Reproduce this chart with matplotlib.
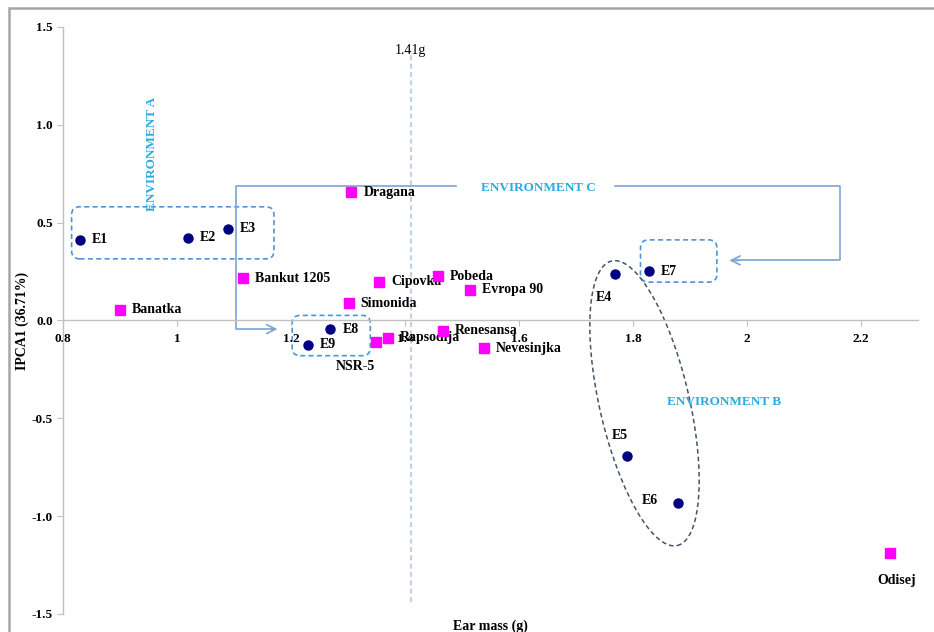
import numpy as np
import matplotlib
matplotlib.use("Agg")
import matplotlib.pyplot as plt
from matplotlib.patches import FancyBboxPatch, Rectangle

plt.rcParams['font.family'] = ['Liberation Serif', 'DejaVu Serif']

# environments (circles)
env_names = ["E1", "E2", "E3", "E4", "E5", "E6", "E7", "E8", "E9"]
env_x = [0.829, 1.019, 1.089, 1.768, 1.789, 1.878, 1.828, 1.269, 1.229]
env_y = [0.412, 0.423, 0.470, 0.239, -0.691, -0.933, 0.252, -0.044, -0.124]

# genotypes (squares)
gen_names = ["Banatka", "Bankut 1205", "Dragana", "Cipovka", "Pobeda", "Evropa 90",
             "Simonida", "Renesansa", "Nevesinjka", "NSR-5", "Rapsodija", "Odisej"]
gen_x = [0.900, 1.116, 1.306, 1.355, 1.457, 1.514, 1.301, 1.467, 1.538, 1.349, 1.370, 2.250]
gen_y = [0.055, 0.217, 0.656, 0.198, 0.227, 0.157, 0.089, -0.053, -0.141, -0.112, -0.088, -1.189]

mean_mass = 1.41

# label offsets in pixels, default is to the right of the point
label_off = {"E4": (-11, -24), "E5": (-7, 20), "E6": (-28, 3),
             "NSR-5": (-21, -24), "Odisej": (7, -27)}

fig = plt.figure(figsize=(9.34, 6.32), dpi=100)
ax = fig.add_axes([0.0675, 0.0285, 0.9155, 0.9288])

ax.set_xlim(0.8, 2.3)
ax.set_ylim(-1.5, 1.5)

ax.spines['top'].set_visible(False)
ax.spines['right'].set_visible(False)
ax.spines['bottom'].set_position(('data', 0))
for s in ['left', 'bottom']:
    ax.spines[s].set_color('#c0c0c0')
    ax.spines[s].set_linewidth(1.0)
ax.tick_params(colors='#c0c0c0', length=4, width=0.8, labelcolor='black', labelsize=9.5)
ax.tick_params(axis='x', pad=5)
ax.set_xticks([0.8, 1, 1.2, 1.4, 1.6, 1.8, 2, 2.2])
ax.set_xticklabels(["0.8", "1", "1.2", "1.4", "1.6", "1.8", "2", "2.2"])
ax.set_yticks([-1.5, -1.0, -0.5, 0.0, 0.5, 1.0, 1.5])
ax.set_yticklabels(["%.1f" % v for v in [-1.5, -1.0, -0.5, 0.0, 0.5, 1.0, 1.5]])
for lab in ax.get_xticklabels() + ax.get_yticklabels():
    lab.set_fontweight('bold')

ax.set_xlabel("Ear mass (g)", fontweight='bold', fontsize=10)
ax.xaxis.set_label_coords(0.5, -0.01)
ax.set_ylabel("IPCA1 (36.71%)", fontweight='bold', fontsize=10)
ax.yaxis.set_label_coords(-0.04, 0.5)

# mean ear mass line
ax.plot([mean_mass, mean_mass], [-1.44, 1.36], ls=(0, (3, 2)), color='#b3c7e6', lw=1.2)
ax.text(mean_mass, 1.38, "%.2fg" % mean_mass, ha='center', va='center', fontsize=10)

ax.plot(env_x, env_y, 'o', color='#000080', ms=6.5, zorder=5)
ax.plot(gen_x, gen_y, 's', color='#ff00ff', ms=6.5, zorder=5)

for n, x, y in list(zip(env_names, env_x, env_y)) + list(zip(gen_names, gen_x, gen_y)):
    if n in label_off:
        ax.annotate(n, (x, y), xytext=label_off[n], textcoords='offset pixels',
                    ha='center', va='center', fontsize=10, fontweight='bold')
    else:
        ax.annotate(n, (x, y), xytext=(12, 0), textcoords='offset pixels',
                    ha='left', va='center', fontsize=10, fontweight='bold')

# dashed group boxes
box_col = '#4f94d8'
asp = 572 / 195.7
for x0, x1, y0, y1 in [(0.815, 1.170, 0.315, 0.581),
                       (1.813, 1.947, 0.196, 0.412),
                       (1.202, 1.339, -0.180, 0.026)]:
    ax.add_patch(FancyBboxPatch((x0, y0), x1 - x0, y1 - y0,
                                boxstyle="round,pad=0,rounding_size=0.014",
                                mutation_aspect=asp, fill=False, ec=box_col,
                                ls=(0, (3, 2)), lw=1.2))

# environment B ellipse
t = np.linspace(0, 2 * np.pi, 200)
cx, cy = 1.820, -0.423
ux, uy = 0.0576, -0.727
nx, ny = 0.0767, 0.0519
ax.plot(cx + ux * np.cos(t) + nx * np.sin(t), cy + uy * np.cos(t) + ny * np.sin(t),
        ls=(0, (3, 2)), color='#44546a', lw=1.1)

# environment C connector
c_col = '#7ea3d3'
ax.plot([1.490, 1.103, 1.103, 1.17], [0.688, 0.688, -0.044, -0.044], color=c_col, lw=1.2)
ax.annotate("", xy=(1.181, -0.044), xytext=(1.16, -0.044),
            arrowprops=dict(arrowstyle='->', color=c_col, lw=1.2, mutation_scale=16))
ax.plot([1.768, 2.163, 2.163, 1.98], [0.688, 0.688, 0.307, 0.307], color=c_col, lw=1.2)
ax.annotate("", xy=(1.964, 0.307), xytext=(1.99, 0.307),
            arrowprops=dict(arrowstyle='->', color=c_col, lw=1.2, mutation_scale=16))

env_col = '#29abe2'
ax.text(0.956, 0.849, "ENVIRONMENT A", rotation=90, ha='center', va='center',
        color=env_col, fontsize=9.5, fontweight='bold')
ax.text(1.959, -0.419, "ENVIRONMENT B", ha='center', va='center',
        color=env_col, fontsize=9.5, fontweight='bold')
ax.text(1.633, 0.677, "ENVIRONMENT C", ha='center', va='center',
        color=env_col, fontsize=9.5, fontweight='bold')

# frame around the figure
fig.patches.append(Rectangle((9 / 934, -0.1), 1.2, 1 - 8 / 632 + 0.1,
                             transform=fig.transFigure, fill=False,
                             ec='#a6a6a6', lw=1.8))

fig.savefig("out.png", dpi=100)
